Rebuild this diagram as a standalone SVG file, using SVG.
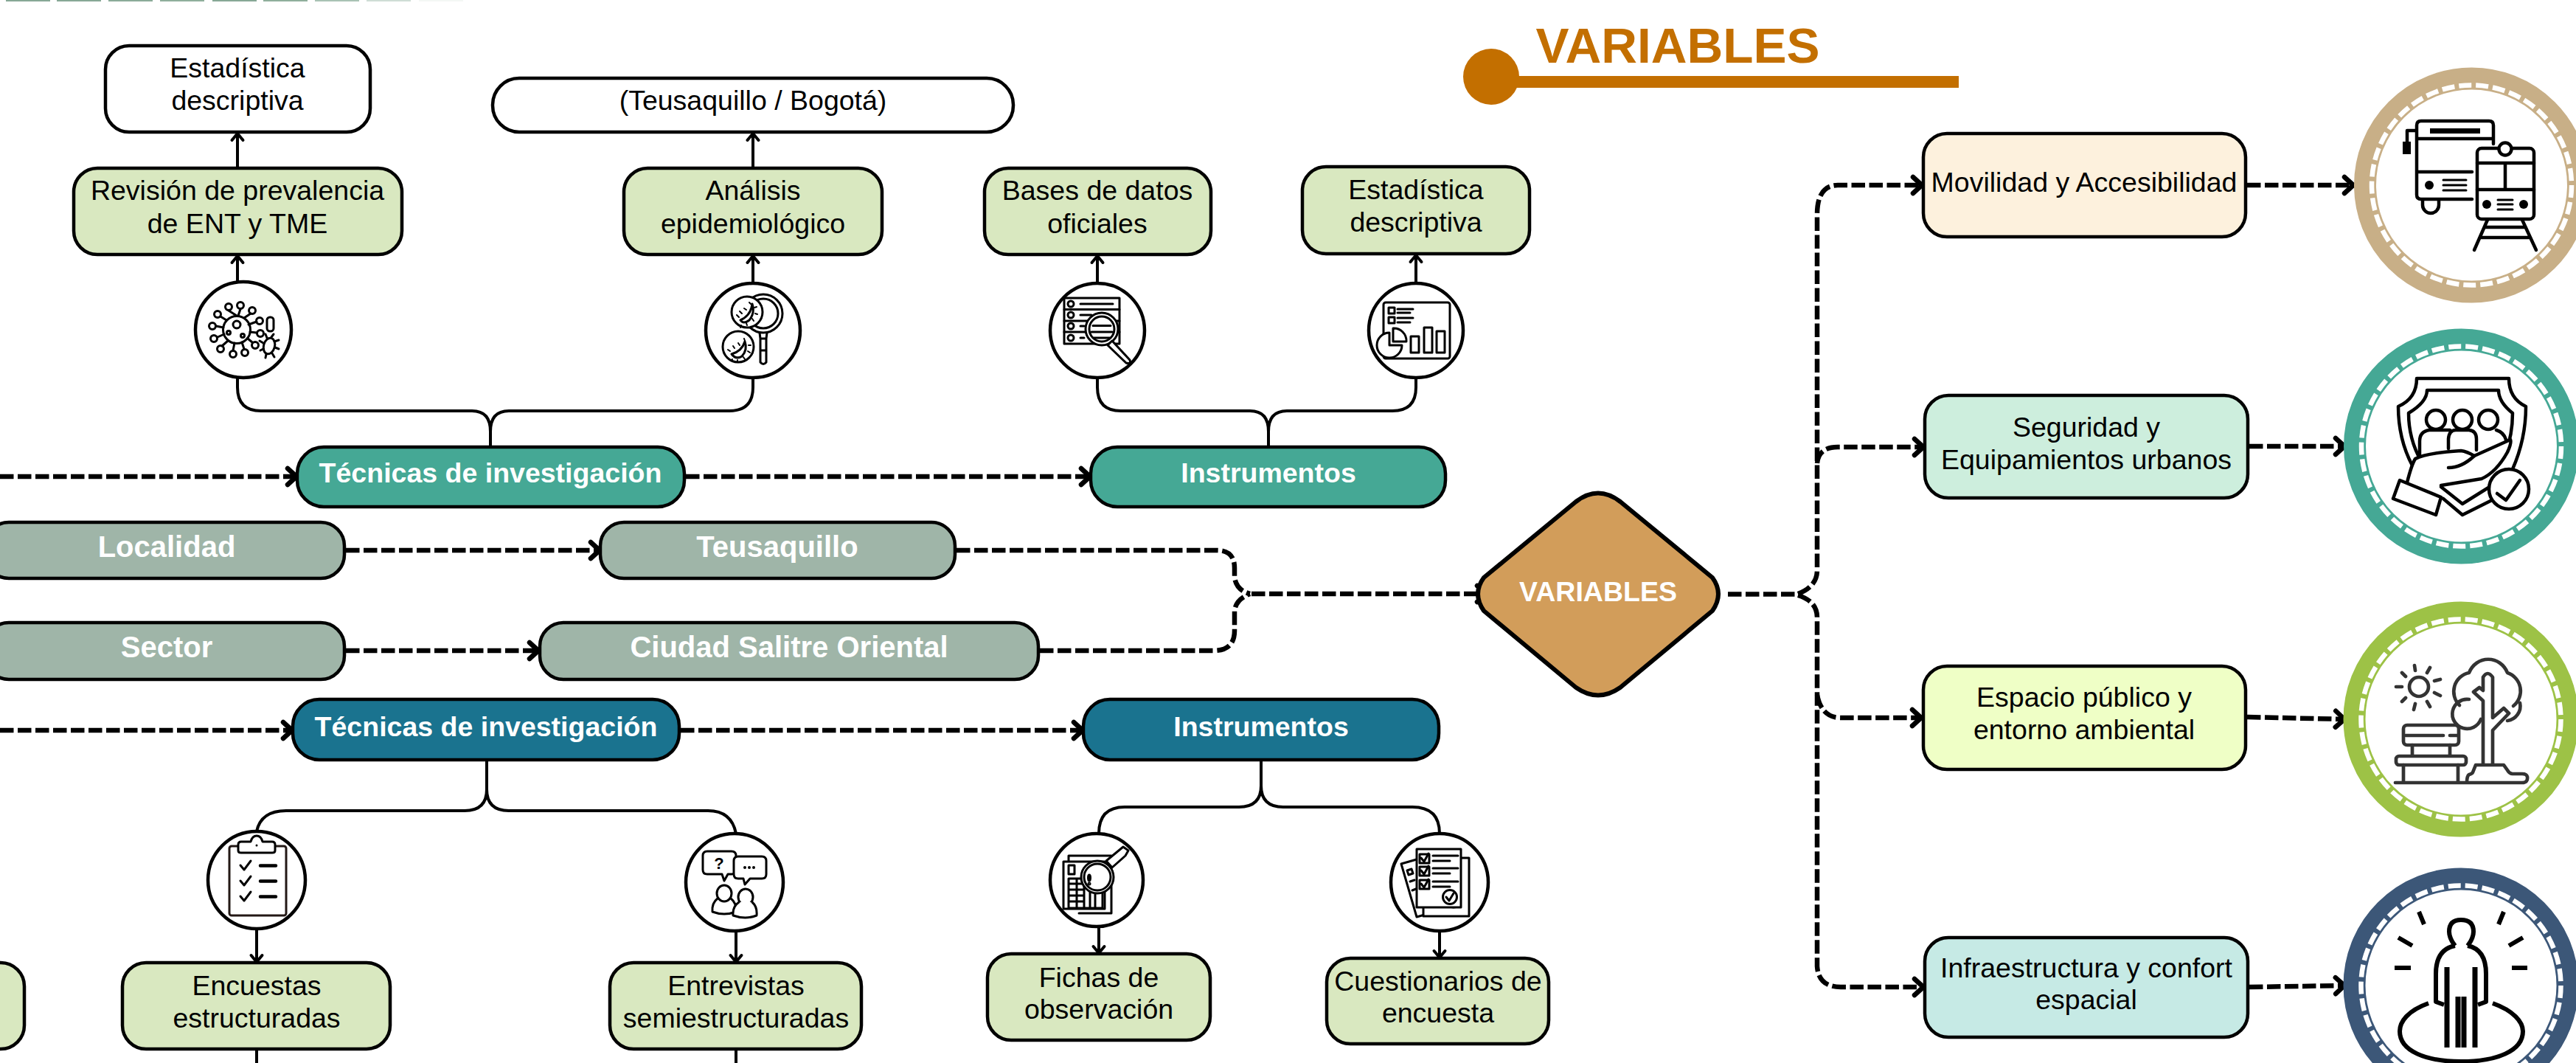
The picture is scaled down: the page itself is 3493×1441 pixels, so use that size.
<svg xmlns="http://www.w3.org/2000/svg" width="3493" height="1441" viewBox="0 0 3493 1441">
<style>
text{font-family:"Liberation Sans",Arial,sans-serif;text-anchor:middle}
.t{font-size:37.5px;fill:#000}
.b{font-size:37.5px;font-weight:700;fill:#fff}
.bs{font-size:40px;font-weight:700;fill:#fff}
.box{stroke:#000;stroke-width:4.5}
.white{fill:#fff}.green{fill:#D9E8C0}.teal{fill:#45A895}.blue{fill:#1A738F}.sage{fill:#9FB5A8}
.circ{fill:#fff;stroke:#000;stroke-width:4.5}
.s{fill:none;stroke:#000;stroke-width:4;stroke-linejoin:round}
.d{fill:none;stroke:#000;stroke-width:6.5;stroke-dasharray:18.500 5.500}
.ic{fill:none;stroke:#000;stroke-width:3;stroke-linecap:round;stroke-linejoin:round}
.icw{fill:#fff;stroke:#000;stroke-width:3;stroke-linecap:round;stroke-linejoin:round}
.ik{fill:none;stroke:#000;stroke-width:4.500;stroke-linecap:round;stroke-linejoin:round}
.ikw{fill:#fff;stroke:#000;stroke-width:4.500;stroke-linecap:round;stroke-linejoin:round}
.tree{fill:none;stroke:#333;stroke-width:4.700;stroke-linecap:round;stroke-linejoin:round}
.dash{fill:none;stroke:#fff;stroke-width:6.500;stroke-dasharray:17 6}
.fk{fill:#000}
</style>
<defs>
<marker id="ad" markerUnits="userSpaceOnUse" markerWidth="30" markerHeight="34" refX="18" refY="17" orient="auto"><path d="M6 6 L18 17 L6 28" fill="none" stroke="#000" stroke-width="6.500" stroke-linecap="round" stroke-linejoin="round"/></marker>
<marker id="as" markerUnits="userSpaceOnUse" markerWidth="24" markerHeight="24" refX="14" refY="12" orient="auto"><path d="M5 4.500 L14 12 L5 19.500" fill="none" stroke="#000" stroke-width="4" stroke-linecap="round" stroke-linejoin="round"/></marker>
</defs>
<rect width="3493" height="1441" fill="#fff"/>

<g id="top-strip">
<rect x="8" y="0" width="60" height="2" fill="#87A896"/><rect x="77" y="0" width="60" height="2" fill="#87A896"/><rect x="147" y="0" width="60" height="2" fill="#8BAB99"/><rect x="217" y="0" width="60" height="2" fill="#8FAF9C"/><rect x="288" y="0" width="60" height="2" fill="#87A896"/><rect x="357" y="0" width="60" height="2" fill="#8FAF9C"/><rect x="427" y="0" width="60" height="2" fill="#A9C2B4"/><rect x="497" y="0" width="60" height="2" fill="#CFDDD5"/><rect x="568" y="0" width="60" height="2" fill="#F4F7F5"/>
</g>

<g id="connectors">
<path class="s" marker-end="url(#as)" d="M322 228V181"/>
<path class="s" marker-end="url(#as)" d="M322 382V347"/>
<path class="s" marker-end="url(#as)" d="M1021 228V181"/>
<path class="s" marker-end="url(#as)" d="M1021 384V347"/>
<path class="s" marker-end="url(#as)" d="M1488 384V347"/>
<path class="s" marker-end="url(#as)" d="M1920 384V346"/>
<path class="s" d="M322 512V525Q322 557 354 557H640Q665 557 665 585V606"/>
<path class="s" d="M1021 512V525Q1021 557 989 557H690Q665 557 665 585"/>
<path class="s" d="M1488 512V525Q1488 557 1520 557H1695Q1720 557 1720 585V606"/>
<path class="s" d="M1920 512V525Q1920 557 1888 557H1745Q1720 557 1720 585"/>
<path class="s" d="M660 1030V1070Q660 1099 630 1099H388Q354 1099 348 1127"/>
<path class="s" d="M660 1070Q660 1099 690 1099H960Q992 1099 998 1130"/>
<path class="s" d="M1710 1030V1065Q1710 1094 1680 1094H1525Q1490 1094 1490 1130"/>
<path class="s" d="M1710 1065Q1710 1094 1740 1094H1915Q1952 1094 1952 1130"/>
<path class="s" marker-end="url(#as)" d="M348 1260V1304"/>
<path class="s" marker-end="url(#as)" d="M998 1262V1304"/>
<path class="s" marker-end="url(#as)" d="M1490 1257V1292"/>
<path class="s" marker-end="url(#as)" d="M1952 1262V1298"/>
<path class="s" d="M348 1422V1441M998 1422V1441"/>
<path class="d" marker-end="url(#ad)" d="M0 646H402"/>
<path class="d" marker-end="url(#ad)" d="M930 646H1478"/>
<path class="d" marker-end="url(#ad)" d="M469 746H813"/>
<path class="d" marker-end="url(#ad)" d="M469 882H730"/>
<path class="d" marker-end="url(#ad)" d="M0 990H396"/>
<path class="d" marker-end="url(#ad)" d="M923 990H1468"/>
<path class="d" d="M1297 746H1650Q1674 746 1674 770V782Q1676 800 1695 805"/>
<path class="d" d="M1410 882H1645Q1674 882 1674 855V828Q1676 812 1695 805"/>
<path class="d" marker-end="url(#ad)" d="M1697 805H2015"/>
<path class="d" d="M2343 805.500H2436"/>
<path class="d" marker-end="url(#ad)" d="M2438 805Q2464 795 2464 773V291Q2464 251 2492 251H2606"/>
<path class="d" marker-end="url(#ad)" d="M2464 628Q2466 606 2492 606H2608"/>
<path class="d" marker-end="url(#ad)" d="M2464 942Q2470 973 2496 973H2605"/>
<path class="d" marker-end="url(#ad)" d="M2438 807Q2464 815 2464 837V1310Q2466 1338 2496 1338H2608"/>
<path class="d" marker-end="url(#ad)" d="M3047 251H3191"/>
<path class="d" marker-end="url(#ad)" d="M3050 605H3179"/>
<path class="d" marker-end="url(#ad)" d="M3047 972L3179 975"/>
<path class="d" marker-end="url(#ad)" d="M3050 1338L3179 1336"/>
</g>

<g id="node-estadistica-1"><rect class="box white" x="143" y="62" width="359" height="117" rx="32"/><text class="t" x="322" y="105">Estadística</text><text class="t" x="322" y="149">descriptiva</text></g>
<g id="node-teusaquillo-bogota"><rect class="box white" x="668" y="106" width="706" height="73" rx="36"/><text class="t" x="1021" y="149">(Teusaquillo / Bogotá)</text></g>
<g id="node-revision"><rect class="box green" x="100" y="228" width="445" height="117" rx="32"/><text class="t" x="322" y="271">Revisión de prevalencia</text><text class="t" x="322" y="316">de ENT y TME</text></g>
<g id="node-analisis"><rect class="box green" x="846" y="228" width="350" height="117" rx="32"/><text class="t" x="1021" y="271">Análisis</text><text class="t" x="1021" y="316">epidemiológico</text></g>
<g id="node-bases"><rect class="box green" x="1335" y="228" width="307" height="117" rx="32"/><text class="t" x="1488" y="271">Bases de datos</text><text class="t" x="1488" y="316">oficiales</text></g>
<g id="node-estadistica-2"><rect class="box green" x="1766" y="226" width="308" height="118" rx="32"/><text class="t" x="1920" y="270">Estadística</text><text class="t" x="1920" y="314">descriptiva</text></g>

<g id="icon-virus"><circle class="circ" cx="330" cy="447" r="65"/>
<path class="ic" d="M321 428L310 421M323 428L326 419M331 431L340 425M337 440L348 436M339 450L348 451M336 459L342 464M328 464L331 473M318 465L316 475M309 462L301 469M304 453L295 457M303 444L293 442M307 434L299 429"/>
<circle class="ic" cx="321" cy="447" r="18.500"/>
<circle class="ic" cx="310" cy="416" r="4.500"/><circle class="ic" cx="326" cy="414" r="4.500"/><circle class="ic" cx="342" cy="421" r="4.500"/><circle class="ic" cx="352" cy="435" r="4.500"/><circle class="ic" cx="353" cy="452" r="4.500"/><circle class="ic" cx="346" cy="468" r="4.500"/><circle class="ic" cx="332" cy="478" r="4.500"/><circle class="ic" cx="316" cy="480" r="4.500"/><circle class="ic" cx="299" cy="473" r="4.500"/><circle class="ic" cx="290" cy="459" r="4.500"/><circle class="ic" cx="288" cy="442" r="4.500"/><circle class="ic" cx="295" cy="426" r="4.500"/>
<circle class="ic" cx="321" cy="440" r="5"/><circle class="ic" cx="310" cy="451" r="2.500"/><circle class="ic" cx="329" cy="455" r="2.500"/>
<rect class="ic" x="362" y="430" width="9" height="19" rx="4"/>
<ellipse class="ic" cx="365" cy="469" rx="7.500" ry="11" transform="rotate(15 365 469)"/>
<path class="ic" d="M368 457L371 453M372 463L378 461M373 471L378 473M369 479L372 484M361 480L360 485M357 473L353 475M357 465L352 462M362 458L360 453"/></g>

<g id="icon-epi"><circle class="circ" cx="1021" cy="448" r="64"/>
<circle class="ic" cx="1035" cy="425" r="26"/><circle class="ic" cx="1035" cy="425" r="20"/>
<path class="ic" d="M1030 451L1031 459H1039L1040 451M1031 459V491Q1035 496 1039 491V459M1031 475H1039"/>
<circle class="icw" cx="1013" cy="423" r="21"/><circle class="icw" cx="1001" cy="470" r="21"/>
<path class="ic" d="M1004 434Q1018 428 1020 412Q1024 424 1016 434Q1008 440 1004 434Z"/>
<path class="ic" d="M992 480Q1006 476 1010 463Q1014 474 1006 483Q998 488 992 480Z"/>
<path class="ic" style="stroke-width:2" d="M1002 430L999 427M1006 425L1003 422M1012 420L1009 418M1018 412L1016 410M1023 417L1026 416M1024 425L1027 426M1020 432L1022 435M1012 438L1013 441M1005 441L1004 444M990 476L987 474M996 472L994 469M1003 468L1001 465M1010 462L1009 459M1015 468L1018 468M1014 476L1017 478M1008 484L1010 487M1000 488L1000 491M993 487L991 489"/></g>

<g id="icon-database"><circle class="circ" cx="1488" cy="448" r="64"/>
<rect class="ic" x="1443" y="404" width="75" height="62"/><path class="ic" d="M1443 419.500H1518M1443 435H1518M1443 450H1518"/>
<circle class="ic" cx="1452" cy="412" r="4"/><circle class="ic" cx="1452" cy="427" r="4"/><circle class="ic" cx="1452" cy="442" r="4"/><circle class="ic" cx="1452" cy="458" r="4"/>
<path class="ic" d="M1465 412H1509M1465 427H1480M1465 442H1470M1465 458H1470"/>
<circle class="icw" cx="1494" cy="446" r="22"/><circle class="ic" cx="1494" cy="446" r="17"/>
<path class="ic" d="M1482 441.500H1506M1480 450H1508M1483 458H1505"/>
<path class="icw" d="M1502 468L1508 462L1532 488Q1534 494 1527 492Z"/></g>

<g id="icon-dashboard"><circle class="circ" cx="1920" cy="448" r="64"/>
<rect class="ic" x="1876" y="410" width="90" height="76" rx="3"/>
<rect class="ic" x="1883" y="417" width="8" height="8"/><rect class="ic" x="1883" y="430" width="8" height="8"/>
<path class="ic" d="M1895 419H1916M1895 424H1912M1895 431H1916M1895 437H1912"/>
<rect class="ic" x="1913" y="456" width="11" height="22"/><rect class="ic" x="1931" y="444" width="11" height="34"/><rect class="ic" x="1948" y="449" width="11" height="29"/>
<path class="icw" d="M1884 451A17 17 0 1 0 1901 468H1884Z"/>
<path class="icw" d="M1889 445A17 17 0 0 1 1907 463H1889Z"/></g>

<g id="node-tecnicas-1"><rect class="box teal" x="403" y="606" width="525" height="81" rx="36"/><text class="b" x="665" y="654">Técnicas de investigación</text></g>
<g id="node-instrumentos-1"><rect class="box teal" x="1479" y="606" width="481" height="81" rx="36"/><text class="b" x="1720" y="654">Instrumentos</text></g>
<g id="node-localidad"><rect class="box sage" x="-20" y="708" width="487" height="76" rx="32"/><text class="bs" x="226" y="755">Localidad</text></g>
<g id="node-teusaquillo"><rect class="box sage" x="814" y="708" width="481" height="76" rx="32"/><text class="bs" x="1054" y="755">Teusaquillo</text></g>
<g id="node-sector"><rect class="box sage" x="-20" y="844" width="487" height="77" rx="32"/><text class="bs" x="226" y="891">Sector</text></g>
<g id="node-ciudad"><rect class="box sage" x="732" y="844" width="676" height="77" rx="32"/><text class="bs" x="1070" y="891">Ciudad Salitre Oriental</text></g>
<g id="node-tecnicas-2"><rect class="box blue" x="397" y="948" width="524" height="82" rx="36"/><text class="b" x="659" y="998">Técnicas de investigación</text></g>
<g id="node-instrumentos-2"><rect class="box blue" x="1469" y="948" width="482" height="82" rx="36"/><text class="b" x="1710" y="998">Instrumentos</text></g>

<g id="icon-clipboard"><circle class="circ" cx="348" cy="1193" r="66"/>
<rect class="ic" x="311" y="1147" width="77" height="94" rx="3" style="stroke:#231815"/>
<path class="icw" d="M323 1145Q323 1141 327 1141H340Q342 1133 348 1133Q354 1133 356 1141H369Q373 1141 373 1145V1153Q373 1156 369 1156H327Q323 1156 323 1153Z"/>
<circle class="fk" cx="348" cy="1146" r="1.500"/>
<path class="ic" d="M326 1173L331 1179L340 1167M326 1194L331 1200L340 1188M326 1215L331 1221L340 1209"/>
<path class="ik" d="M353 1173.500H374M353 1194.500H374M353 1215.500H374"/></g>

<g id="icon-interview"><circle class="circ" cx="996" cy="1196" r="66"/>
<path class="ic" d="M959 1154H992Q998 1154 998 1160V1179Q998 1185 992 1185H987L982 1194L979 1185H959Q953 1185 953 1179V1160Q953 1154 959 1154Z"/>
<text x="975" y="1178" style="font-size:22px;font-weight:700">?</text>
<path class="icw" d="M1001 1161H1033Q1039 1161 1039 1167V1185Q1039 1191 1033 1191H1017L1010 1199L1008 1191H1001Q995 1191 995 1185V1167Q995 1161 1001 1161Z"/>
<circle class="fk" cx="1010" cy="1176" r="2"/><circle class="fk" cx="1016" cy="1176" r="2"/><circle class="fk" cx="1022" cy="1176" r="2"/>
<ellipse class="ic" cx="982" cy="1211" rx="10" ry="11"/><path class="ic" d="M973 1218Q965 1224 966 1236Q982 1242 998 1236Q999 1224 991 1218"/>
<ellipse class="icw" cx="1011" cy="1216" rx="10" ry="11"/><path class="icw" d="M1002 1223Q993 1229 994 1241Q1011 1247 1026 1241Q1027 1229 1020 1223"/></g>

<g id="icon-fichas"><circle class="circ" cx="1487" cy="1193" r="63"/>
<path class="ic" d="M1449 1168V1160H1507V1238H1463"/><rect class="icw" x="1442" y="1168" width="56" height="64"/>
<rect class="ic" x="1449" y="1173" width="8" height="12"/>
<path class="ic" d="M1449 1191H1495V1231H1449ZM1449 1198H1470M1449 1206H1470M1449 1214H1470M1449 1222H1470M1460 1191V1231M1470 1191V1231M1478 1205V1231M1485 1205V1231"/>
<path class="icw" d="M1500 1167L1523 1148L1530 1153L1526 1160L1508 1176Z"/>
<circle class="icw" cx="1488" cy="1189" r="22"/><circle class="ic" cx="1488" cy="1189" r="18"/>
<ellipse class="ic" cx="1477" cy="1190" rx="1.500" ry="4"/><circle class="ic" cx="1477" cy="1198" r="1"/></g>

<g id="icon-cuestionario"><circle class="circ" cx="1952" cy="1196" r="66"/>
<path class="icw" d="M1900 1171L1921 1165L1950 1235L1921 1243Z"/>
<path class="ic" d="M1908 1180L1914 1178L1916 1184L1910 1186ZM1912 1195L1918 1193M1915 1207L1920 1205"/>
<rect class="icw" x="1930" y="1163" width="62" height="79"/>
<circle class="ic" cx="1971" cy="1222" r="8"/>
<rect class="icw" x="1921" y="1151" width="60" height="79"/>
<rect class="ic" x="1925" y="1158" width="13" height="12"/><rect class="ic" x="1925" y="1175" width="13" height="12"/><rect class="ic" x="1925" y="1193" width="13" height="12"/>
<path class="ic" d="M1927 1163L1931 1168L1937 1157M1927 1180L1931 1185L1937 1174M1927 1198L1931 1203L1937 1192"/>
<path class="ic" d="M1943 1160H1977M1943 1167H1966M1943 1177H1977M1943 1184H1966M1943 1195H1977M1943 1202H1966"/>
<circle class="icw" cx="1966" cy="1216" r="9.500"/><path class="ic" d="M1961 1216L1965 1221L1971 1211"/></g>

<g id="node-encuestas"><rect class="box green" x="166" y="1305" width="363" height="117" rx="32"/><text class="t" x="348" y="1349">Encuestas</text><text class="t" x="348" y="1393">estructuradas</text></g>
<g id="node-entrevistas"><rect class="box green" x="827" y="1305" width="341" height="117" rx="32"/><text class="t" x="998" y="1349">Entrevistas</text><text class="t" x="998" y="1393">semiestructuradas</text></g>
<g id="node-parcial"><rect class="box green" x="-60" y="1305" width="93" height="117" rx="32"/></g>
<g id="node-fichas"><rect class="box green" x="1339" y="1293" width="302" height="117" rx="32"/><text class="t" x="1490" y="1338">Fichas de</text><text class="t" x="1490" y="1381">observación</text></g>
<g id="node-cuestionarios"><rect class="box green" x="1799" y="1299" width="301" height="116" rx="32"/><text class="t" x="1950" y="1343">Cuestionarios de</text><text class="t" x="1950" y="1386">encuesta</text></g>

<g id="title-variables"><circle cx="2022" cy="104" r="38" fill="#C36F00"/><rect x="2050" y="103" width="606" height="16" fill="#C36F00"/><text x="2275" y="85" style="font-size:67.500px;font-weight:700;fill:#C36F00">VARIABLES</text></g>

<g id="node-variables"><path fill="#D29D5A" stroke="#000" stroke-width="6" stroke-linejoin="round" d="M2137 680Q2167 657 2197 680L2322 783Q2338 805 2322 828L2197 932Q2167 953 2137 932L2012 828Q1996 805 2012 783Z"/><text class="b" x="2167" y="815">VARIABLES</text></g>

<g id="node-movilidad"><rect class="box" fill="#FDF1DD" x="2608" y="181" width="437" height="140" rx="32"/><text class="t" x="2826" y="260">Movilidad y Accesibilidad</text></g>
<g id="node-seguridad"><rect class="box" fill="#CDEEDD" x="2610" y="536" width="438" height="139" rx="32"/><text class="t" x="2829" y="592">Seguridad y</text><text class="t" x="2829" y="636">Equipamientos urbanos</text></g>
<g id="node-espacio"><rect class="box" fill="#EFFFC6" x="2608" y="903" width="437" height="140" rx="32"/><text class="t" x="2826" y="958">Espacio público y</text><text class="t" x="2826" y="1002">entorno ambiental</text></g>
<g id="node-infra"><rect class="box" fill="#C6EAE5" x="2610" y="1271" width="438" height="135" rx="32"/><text class="t" x="2829" y="1325">Infraestructura y confort</text><text class="t" x="2829" y="1368">espacial</text></g>

<g id="icon-movilidad"><circle cx="3351.500" cy="251" r="144.500" fill="#fff" stroke="#C8AF87" stroke-width="30"/><circle class="dash" cx="3351.500" cy="251" r="135.500"/>
<path class="ik" d="M3352 270H3283Q3277 270 3277 264V170Q3277 164 3283 164H3375Q3381 164 3381 170V195M3277 188H3381M3277 233H3352M3277 177H3264V192M3285 270V278A11 11 0 0 0 3307 278V270"/>
<rect class="fk" x="3295" y="174" width="68" height="7"/><rect class="fk" x="3258" y="192" width="11" height="17"/>
<circle class="fk" cx="3294" cy="251" r="6"/><path class="ik" style="stroke-width:3" d="M3313 244H3344M3313 251H3344M3313 258H3344"/>
<rect class="ikw" x="3359" y="201" width="77" height="96" rx="6"/>
<path class="ik" d="M3359 221H3436M3359 257H3436M3397 221V257"/><circle class="ikw" cx="3397" cy="202" r="8.500"/>
<circle class="fk" cx="3372" cy="277" r="6"/><circle class="fk" cx="3422" cy="277" r="6"/><path class="ik" style="stroke-width:3" d="M3387 271H3407M3387 277H3407M3387 284H3407"/>
<path class="ik" d="M3373 298L3355 339M3420 298L3439 339M3371 308H3423M3363 322H3430"/></g>

<g id="icon-seguridad"><circle cx="3337.500" cy="605" r="144.500" fill="#fff" stroke="#45A895" stroke-width="30"/><circle class="dash" cx="3337.500" cy="605" r="135.500"/>
<path class="ik" d="M3271 631Q3252 595 3252 551Q3277 540 3277 513H3402Q3402 540 3425 551Q3425 595 3407 636M3283 625Q3266 595 3266 560Q3291 545 3291 529H3388Q3388 545 3407 560Q3407 590 3397 615"/>
<ellipse class="ik" cx="3303" cy="569" rx="13" ry="13"/><ellipse class="ik" cx="3339" cy="569" rx="13" ry="13"/><ellipse class="ik" cx="3374" cy="569" rx="13" ry="13"/>
<path class="ik" d="M3281 620V598Q3281 585 3294 583H3322M3320 608V595Q3321 583 3330 583H3348Q3358 584 3358 595V610M3385 583Q3395 586 3398 596"/>
<path class="ikw" d="M3264 654Q3270 630 3275 622Q3290 614 3337 611Q3345 612 3355 618L3404 596Q3406 600 3400 613Q3385 640 3365 649L3310 658"/>
<path class="ik" d="M3320 634Q3338 634 3355 618"/>
<path class="ikw" d="M3254 651L3310 674L3303 698L3245 676Z"/>
<path class="ik" d="M3310 660L3339 683L3379 658M3313 676L3339 698L3379 678"/>
<circle class="ikw" cx="3402" cy="663" r="27"/><path class="ik" d="M3386 669L3398 678L3417 651"/></g>

<g id="icon-espacio"><circle cx="3337" cy="975" r="144.500" fill="#fff" stroke="#9DC246" stroke-width="30"/><circle class="dash" cx="3337" cy="975" r="135.500"/>
<circle class="tree" cx="3280" cy="931" r="13"/>
<path class="tree" d="M3274 902L3275 909M3295 905L3291 912M3309 921L3301 923M3309 943L3301 939M3295 958L3291 951M3273 962L3275 954M3257 951L3262 946M3249 931L3257 931M3257 912L3262 917"/>
<path class="tree" d="M3335 956A26 26 0 0 1 3348 912A28 29 0 0 1 3400 912A26 26 0 0 1 3408 957M3417 953A20 20 0 0 1 3400 977M3348 948A20 20 0 1 0 3364 975"/>
<path class="tree" d="M3367 1036V950L3354 938L3362 932L3367 936V918Q3373 908 3380 918V973L3395 960L3402 967L3380 990V1036"/>
<rect class="tree" x="3259" y="983" width="75" height="27" rx="5"/><path class="tree" d="M3262 997H3313M3322 997H3333M3271 1010V1024M3322 1010V1024"/>
<rect class="tree" x="3249" y="1025" width="95" height="12" rx="4"/><path class="tree" d="M3259 1037V1061M3333 1037V1061M3248 1061H3420Q3428 1061 3427 1053Q3426 1049 3420 1049H3407Q3403 1049 3400 1044L3395 1037H3357L3353 1047Q3352 1049 3348 1050Q3345 1052 3345 1061"/></g>

<g id="icon-infra"><circle cx="3337" cy="1336" r="144.500" fill="#fff" stroke="#3C5778" stroke-width="30"/><circle class="dash" cx="3337" cy="1336" r="135.500"/>
<path fill="none" stroke="#000" stroke-width="6" stroke-linecap="butt" d="M3280 1236L3287 1253M3395 1236L3388 1253M3252 1271L3271 1282M3421 1271L3402 1282M3247 1312H3269M3406 1312H3427"/>
<path fill="none" stroke="#000" stroke-width="6" stroke-linejoin="round" d="M3329 1282Q3321 1272 3321 1263Q3321 1247 3337 1247Q3354 1247 3354 1263Q3354 1272 3346 1282M3329 1282Q3303 1287 3303 1320V1358L3314 1362M3346 1282Q3371 1287 3371 1320V1358L3360 1362"/>
<path fill="none" stroke="#000" stroke-width="7" d="M3318 1311V1420M3356 1311V1420M3333 1351V1420M3341 1351V1420"/>
<path fill="none" stroke="#000" stroke-width="6" d="M3293 1360C3265 1370 3254 1385 3254 1398C3254 1425 3290 1439 3337 1439C3385 1439 3421 1425 3421 1398C3421 1385 3408 1370 3380 1360"/></g>
</svg>
